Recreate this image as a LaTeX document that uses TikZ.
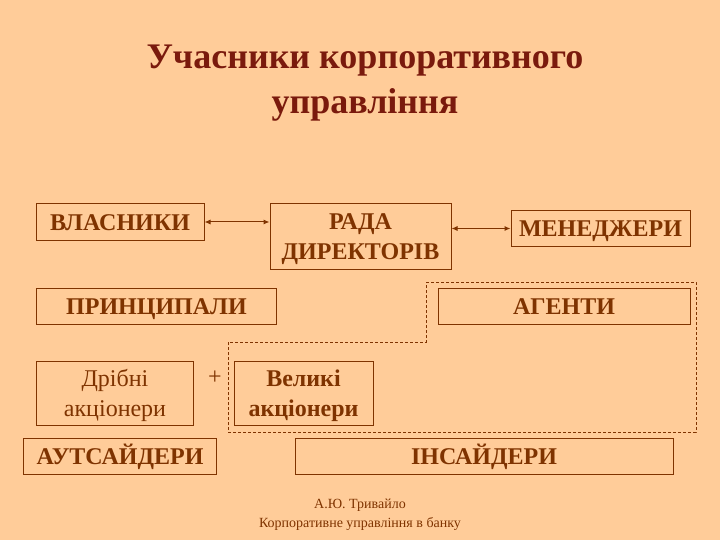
\documentclass[tikz,border=0pt]{standalone}
\usepackage{fontspec}
\setmainfont{Liberation Serif}
\usepackage{xcolor}
\usetikzlibrary{positioning, arrows.meta}

\definecolor{slidebg}{HTML}{FFCC99}
\definecolor{inkbrown}{HTML}{7F3300}
\definecolor{titlered}{HTML}{7A1A0D}

\newcommand{\topstrut}{\rule{0pt}{22pt}}

\tikzset{
    frame/.style={draw=inkbrown, line width=1pt, text=inkbrown, inner sep=0pt,
        font=\fontsize{24}{30}\selectfont\bfseries},
    onebox/.style={frame, text height=16pt, text depth=0pt},
    box/.style={frame, align=center},
    thinbox/.style={box, font=\fontsize{24}{30}\selectfont},
    link/.style={inkbrown, line width=1pt, {Latex[length=6pt,width=5pt]}-{Latex[length=6pt,width=5pt]}},
    groupline/.style={inkbrown, line width=0.8pt, dash pattern=on 3pt off 2pt},
}

\begin{document}
\begin{tikzpicture}[x=1pt, y=-1pt]
    \fill[slidebg] (0,0) rectangle (720,540);
    \useasboundingbox (0,0) rectangle (720,540);

    % Title
    \node[text=titlered, font=\fontsize{36}{45}\selectfont\bfseries, align=center] (title) at (365,83)
        {Учасники корпоративного\\управління};

    % Top row
    \node[onebox, minimum width=168pt, minimum height=36pt] (vlasnyky) at (120,222) {ВЛАСНИКИ};
    \node[box, minimum width=181pt, minimum height=65pt] (rada) at (360.5,236.5) {\topstrut РАДА\\ДИРЕКТОРІВ};
    \node[onebox, minimum width=179pt, minimum height=35pt] (menedzhery) at (600.5,228.5) {МЕНЕДЖЕРИ};

    \draw[link] (vlasnyky.east) -- (vlasnyky.east -| rada.west);
    \draw[link] (menedzhery.west -| rada.east) -- (menedzhery.west);

    % Principals and agents
    \node[onebox, minimum width=240pt, minimum height=36pt] (pryntsypaly) at (156.5,306) {ПРИНЦИПАЛИ};
    \node[onebox, minimum width=252pt, minimum height=36pt] (agenty) at (564,306) {АГЕНТИ};

    % Shareholders
    \node[thinbox, minimum width=157pt, minimum height=64pt] (dribni) at (115,393) {\topstrut Дрібні\\акціонери};
    \node[text=inkbrown, font=\fontsize{24}{30}\selectfont] (plus) at (215,378) {+};
    \node[box, minimum width=139pt, minimum height=64pt] (veliki) at (303.5,393) {\topstrut Великі\\акціонери};

    % Insiders group
    \draw[groupline] (426,282) -- (696,282) -- (696,432) -- (228,432) -- (228,342) -- (426,342) -- cycle;

    % Bottom row
    \node[onebox, minimum width=193pt, minimum height=36pt] (autsaidery) at (120,456) {АУТСАЙДЕРИ};
    \node[onebox, minimum width=378pt, minimum height=36pt] (insaidery) at (484,456) {ІНСАЙДЕРИ};

    % Footer
    \node[text=inkbrown, font=\fontsize{14}{19}\selectfont, align=center] (footer) at (360,514.5)
        {А.Ю. Тривайло\\Корпоративне управління в банку};
\end{tikzpicture}
\end{document}
